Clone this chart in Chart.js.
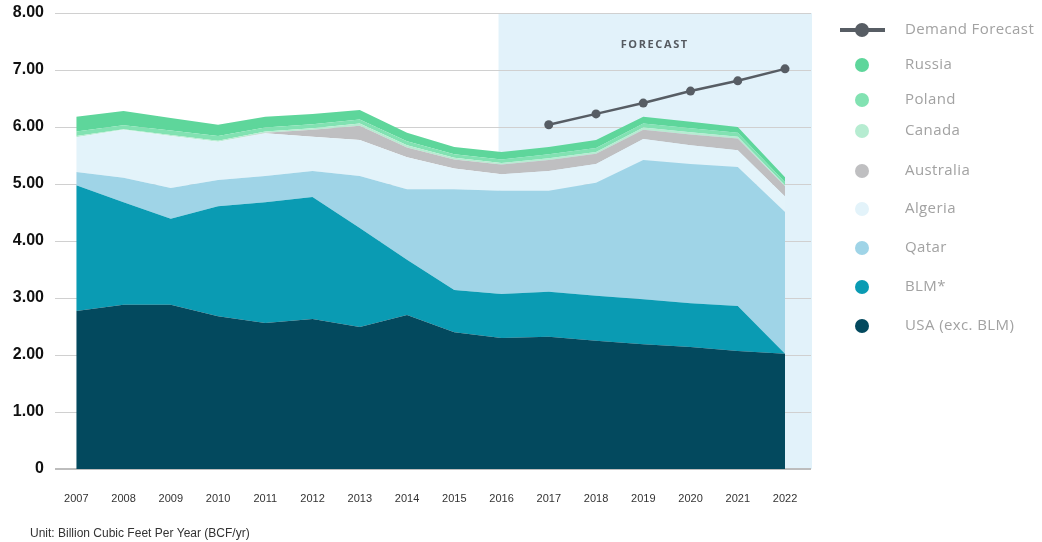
<!DOCTYPE html>
<html>
<head>
<meta charset="utf-8">
<title>Supply by source</title>
<script src="https://cdn.jsdelivr.net/npm/chart.js@4/dist/chart.umd.min.js"></script>
<style>
  html, body { margin: 0; padding: 0; background: #fff; }
  #wrap { width: 1042px; height: 542px; position: relative; }
</style>
</head>
<body>
<div id="wrap"><canvas id="supply-chart" width="1042" height="542"></canvas></div>
<script>
// Values (BCF/yr), stacked bottom to top
const years = [2007, 2008, 2009, 2010, 2011, 2012, 2013, 2014, 2015, 2016, 2017, 2018, 2019, 2020, 2021, 2022];
const usa = [2.77, 2.88, 2.88, 2.68, 2.56, 2.63, 2.49, 2.70, 2.40, 2.30, 2.32, 2.25, 2.19, 2.14, 2.07, 2.02];
const blm = [2.21, 1.80, 1.51, 1.93, 2.12, 2.14, 1.74, 0.97, 0.74, 0.77, 0.79, 0.79, 0.79, 0.77, 0.79, 0.00];
const qatar = [0.23, 0.43, 0.54, 0.46, 0.46, 0.46, 0.91, 1.24, 1.77, 1.81, 1.77, 1.98, 2.44, 2.44, 2.44, 2.49];
const algeria = [0.61, 0.84, 0.91, 0.67, 0.75, 0.60, 0.63, 0.56, 0.36, 0.29, 0.35, 0.33, 0.37, 0.33, 0.29, 0.27];
const australia = [0, 0, 0, 0, 0.01, 0.12, 0.25, 0.17, 0.16, 0.17, 0.19, 0.18, 0.16, 0.19, 0.21, 0.18];
const canada = [0.02, 0.01, 0.02, 0.02, 0.02, 0.03, 0.04, 0.04, 0.03, 0.03, 0.03, 0.03, 0.04, 0.04, 0.03, 0.02];
const poland = [0.08, 0.07, 0.08, 0.08, 0.07, 0.07, 0.07, 0.07, 0.06, 0.06, 0.07, 0.07, 0.07, 0.07, 0.07, 0.05];
const russia = [0.26, 0.25, 0.22, 0.20, 0.19, 0.18, 0.17, 0.15, 0.13, 0.13, 0.13, 0.14, 0.12, 0.11, 0.10, 0.09];
const demand = [null, null, null, null, null, null, null, null, null, null, 6.04, 6.23, 6.42, 6.63, 6.81, 7.02];

const yTicks = [0, 1, 2, 3, 4, 5, 6, 7, 8];
const forecastStart = 2016;
const unitText = 'Unit: Billion Cubic Feet Per Year (BCF/yr)';

const COLORS = {
    usa: '#03495e',
    blm: '#0a9bb3',
    qatar: '#9fd4e7',
    algeria: '#e3f3fa',
    australia: '#bfbfc1',
    canada: '#b6ecd1',
    poland: '#82e2b2',
    russia: '#5ed69b',
    demand: '#575d64',
    forecast: '#e2f2fa'
};

function toPoints(values) {
    return years.map((yr, i) => ({ x: yr, y: values[i] }));
}

// one stacked area layer, filled down to the layer below
function areaLayer(label, values, color, first) {
    return {
        label: label,
        data: toPoints(values),
        backgroundColor: color,
        borderColor: color,
        borderWidth: 0,
        pointRadius: 0,
        tension: 0,
        fill: first ? 'origin' : '-1',
        stack: 'supply'
    };
}

const datasets = [
    areaLayer('USA (exc. BLM)', usa, COLORS.usa, true),
    areaLayer('BLM*', blm, COLORS.blm),
    areaLayer('Qatar', qatar, COLORS.qatar),
    areaLayer('Algeria', algeria, COLORS.algeria),
    areaLayer('Australia', australia, COLORS.australia),
    areaLayer('Canada', canada, COLORS.canada),
    areaLayer('Poland', poland, COLORS.poland),
    areaLayer('Russia', russia, COLORS.russia),
    {
        label: 'Demand Forecast',
        data: toPoints(demand),
        borderColor: COLORS.demand,
        backgroundColor: COLORS.demand,
        borderWidth: 2.5,
        pointRadius: 4.5,
        pointBackgroundColor: COLORS.demand,
        pointBorderWidth: 0,
        fill: false,
        stack: 'demand',
        order: -1
    }
];

// Shaded forecast region + its caption, drawn under grid and areas
const forecastBox = {
    id: 'forecastBox',
    beforeDraw(chart) {
        const { ctx, chartArea, scales } = chart;
        const x0 = scales.x.getPixelForValue(forecastStart) - 3;
        const yTop = scales.y.getPixelForValue(yTicks[yTicks.length - 1]);
        ctx.save();
        ctx.fillStyle = COLORS.forecast;
        ctx.fillRect(x0, yTop, chartArea.right + 1 - x0, chartArea.bottom - yTop);
        ctx.fillStyle = '#555a60';
        ctx.font = 'bold 11px "Open Sans", sans-serif';
        ctx.textAlign = 'center';
        ctx.textBaseline = 'middle';
        if ('letterSpacing' in ctx) ctx.letterSpacing = '1.6px';
        ctx.fillText('FORECAST', (x0 + chartArea.right) / 2, yTop + 32);
        ctx.restore();
    }
};

// Legend on the right (reverse stack order, forecast on top) and unit note
const sideNotes = {
    id: 'sideNotes',
    afterDraw(chart) {
        const { ctx } = chart;
        const order = [8, 7, 6, 5, 4, 3, 2, 1, 0];
        const rowY = [30, 65, 100, 131, 171, 209, 248, 287, 326];
        ctx.save();
        order.forEach((dsIndex, row) => {
            const ds = chart.data.datasets[dsIndex];
            const y = rowY[row];
            if (dsIndex === 8) {
                ctx.strokeStyle = ds.borderColor;
                ctx.lineWidth = 4;
                ctx.beginPath();
                ctx.moveTo(840, y);
                ctx.lineTo(885, y);
                ctx.stroke();
            }
            ctx.fillStyle = ds.backgroundColor;
            ctx.beginPath();
            ctx.arc(862, y, 7, 0, Math.PI * 2);
            ctx.fill();
            ctx.fillStyle = '#a2a2a2';
            ctx.font = '15px "Open Sans", sans-serif';
            if ('letterSpacing' in ctx) ctx.letterSpacing = '0.4px';
            ctx.textAlign = 'left';
            ctx.textBaseline = 'middle';
            ctx.fillText(ds.label, 905, y);
        });
        if ('letterSpacing' in ctx) ctx.letterSpacing = '0px';
        ctx.fillStyle = '#333';
        ctx.font = '12px "Liberation Sans", Arial, sans-serif';
        ctx.textBaseline = 'middle';
        ctx.fillText(unitText, 30, 534);
        ctx.restore();
    }
};

const ctx = document.getElementById('supply-chart').getContext('2d');
new Chart(ctx, {
    type: 'line',
    data: { datasets: datasets },
    plugins: [forecastBox, sideNotes],
    options: {
        responsive: false,
        animation: false,
        layout: { padding: { top: 13, right: 231, left: 0, bottom: 0 } },
        plugins: {
            legend: { display: false },
            tooltip: { enabled: false }
        },
        scales: {
            x: {
                type: 'linear',
                min: 2006.55,
                max: 2022.55,
                grid: { display: false },
                border: { display: false },
                afterBuildTicks(scale) {
                    scale.ticks = years.map(v => ({ value: v }));
                },
                afterFit(scale) { scale.height = 73; },
                ticks: {
                    padding: 15,
                    color: '#333',
                    font: { family: '"Liberation Sans", Arial, sans-serif', size: 11 },
                    maxRotation: 0,
                    autoSkip: false,
                    callback: v => String(v)
                }
            },
            y: {
                stacked: true,
                min: 0,
                max: 8,
                afterBuildTicks(scale) {
                    scale.ticks = yTicks.map(v => ({ value: v }));
                },
                afterFit(scale) {
                    scale.width = 55;
                    // let the top label hang over the padding instead of pushing the plot down
                    scale.paddingTop = 0;
                    scale.paddingBottom = 0;
                },
                border: { display: false },
                grid: {
                    drawTicks: false,
                    color: c => c.tick && c.tick.value === 0 ? '#bdbdbd' : '#d0d0d0',
                    lineWidth: c => c.tick && c.tick.value === 0 ? 2 : 1
                },
                ticks: {
                    padding: 11,
                    color: '#111',
                    font: { family: '"Liberation Sans", Arial, sans-serif', size: 16, weight: 'bold' },
                    callback: v => v === 0 ? '0' : v.toFixed(2)
                }
            }
        }
    }
});
</script>
</body>
</html>
